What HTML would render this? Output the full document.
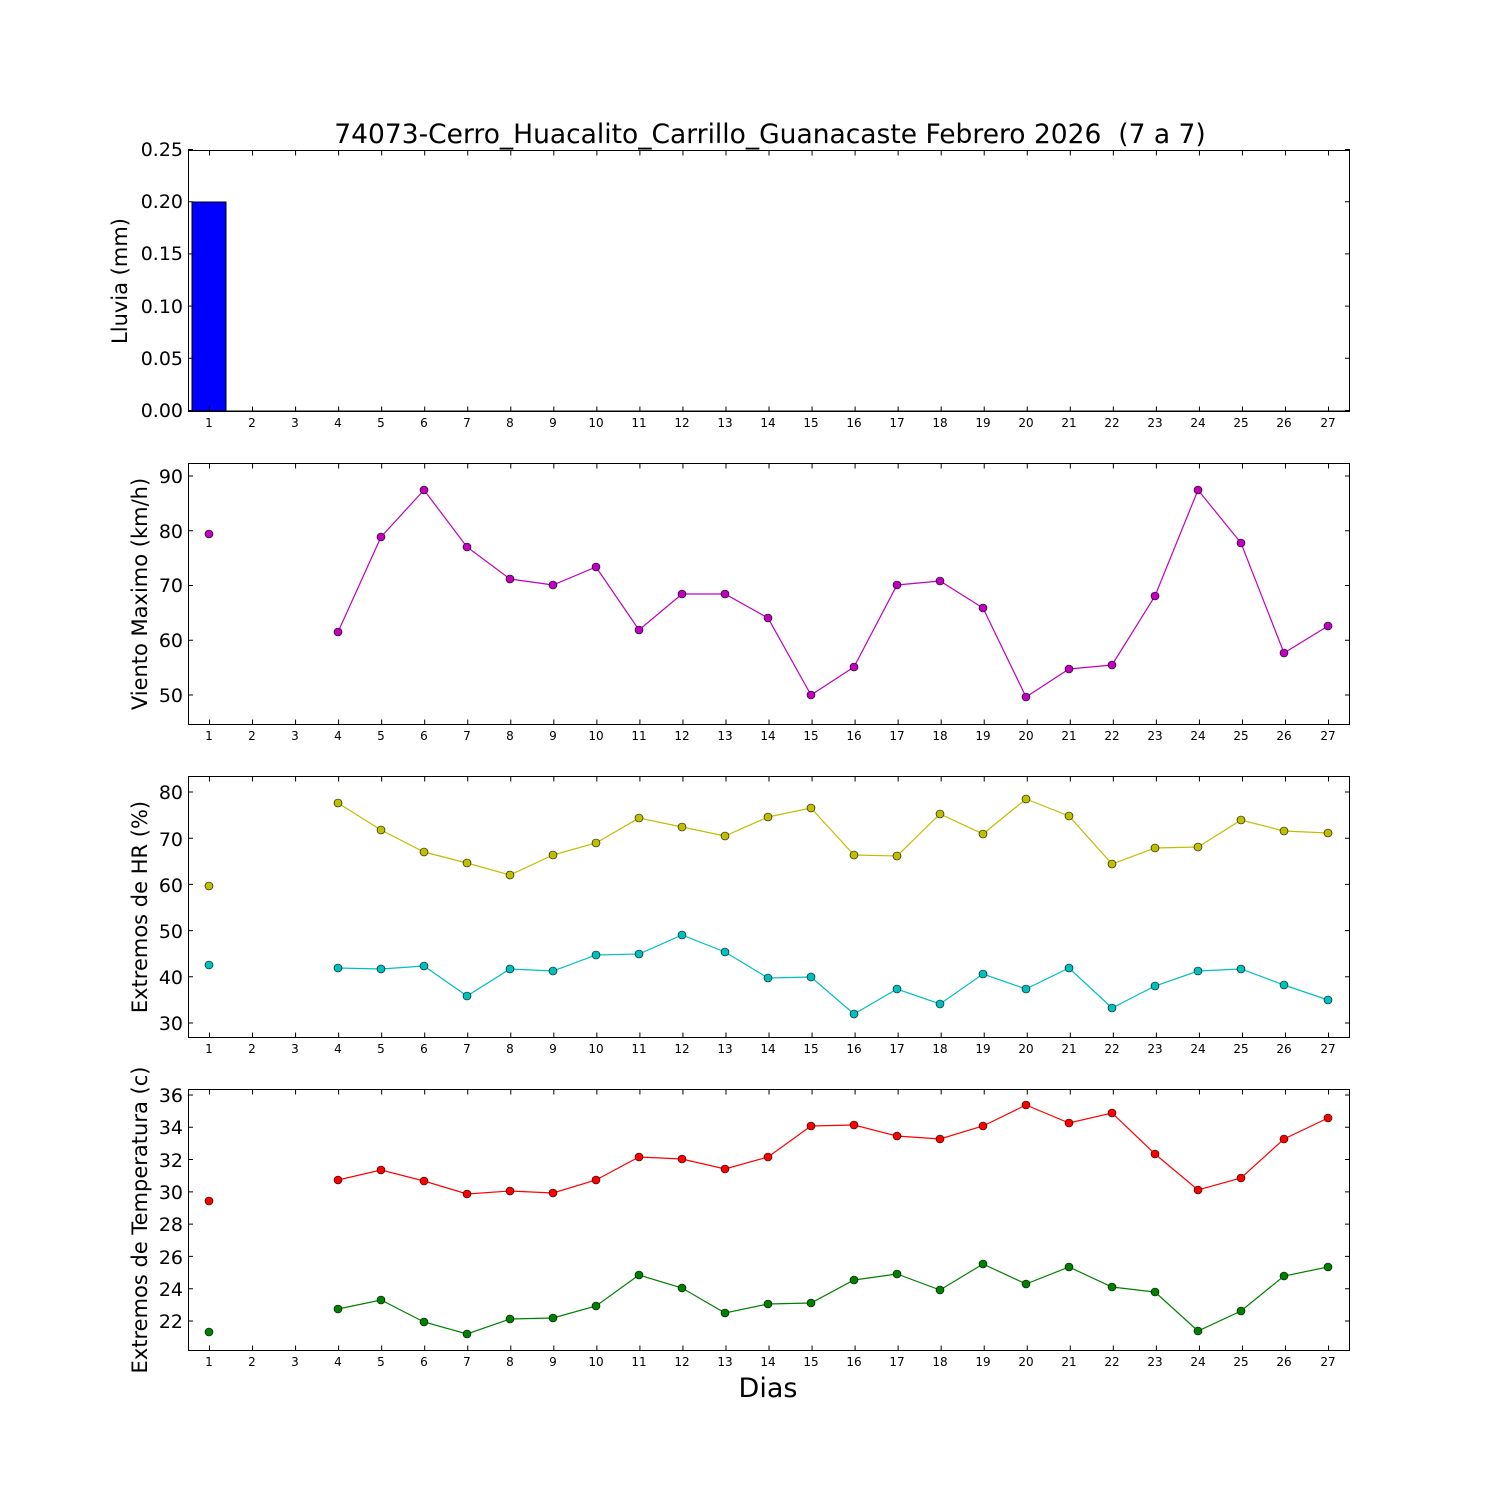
<!DOCTYPE html>
<html><head><meta charset="utf-8"><style>
body{margin:0;background:#fff}
svg text{font-family:"DejaVu Sans","Liberation Sans",sans-serif;fill:#000}
.xl{font-size:12px;text-anchor:middle}
.yl{font-size:19px;text-anchor:end}
</style></head><body>
<svg width="1500" height="1500" viewBox="0 0 1500 1500" xmlns="http://www.w3.org/2000/svg">
<rect width="1500" height="1500" fill="#fff"/>
<text x="770" y="143" font-size="26.5" text-anchor="middle">74073-Cerro_Huacalito_Carrillo_Guanacaste Febrero 2026&#160; (7 a 7)</text>

<!-- Panel 1 -->
<rect x="192" y="202" width="34" height="209" fill="#0000ff" stroke="#000" stroke-width="1"/>
<line x1="226" y1="411" x2="1350" y2="411" stroke="#000" stroke-width="1"/>
<rect x="188.5" y="150.5" width="1161" height="261" fill="none" stroke="#000" stroke-width="1"/>
<g stroke="#000" stroke-width="5" fill="none">
<line x1="209" y1="409" x2="1330" y2="409" stroke-dasharray="1 42.04"/>
<line x1="209" y1="153" x2="1330" y2="153" stroke-dasharray="1 42.04"/>
<line x1="190.5" y1="411" x2="190.5" y2="149" stroke-dasharray="1 51.2"/>
<line x1="1347.5" y1="411" x2="1347.5" y2="149" stroke-dasharray="1 51.2"/>
</g>
<g class="yl"><text x="183" y="417">0.00</text><text x="183" y="365">0.05</text><text x="183" y="313">0.10</text><text x="183" y="260">0.15</text><text x="183" y="208">0.20</text><text x="183" y="156">0.25</text></g>
<text transform="translate(127,281) rotate(-90)" font-size="21" text-anchor="middle">Lluvia (mm)</text>

<!-- Panel 2 -->
<rect x="188.5" y="463.5" width="1161" height="261" fill="none" stroke="#000" stroke-width="1"/>
<g stroke="#000" stroke-width="5" fill="none">
<line x1="209" y1="722" x2="1330" y2="722" stroke-dasharray="1 42.04"/>
<line x1="209" y1="466" x2="1330" y2="466" stroke-dasharray="1 42.04"/>
<line x1="190.5" y1="695.5" x2="190.5" y2="470" stroke-dasharray="1 53.75"/>
<line x1="1347.5" y1="695.5" x2="1347.5" y2="470" stroke-dasharray="1 53.75"/>
</g>
<g class="yl"><text x="183" y="702">50</text><text x="183" y="647">60</text><text x="183" y="592">70</text><text x="183" y="538">80</text><text x="183" y="483">90</text></g>
<text transform="translate(147,594) rotate(-90)" font-size="21" text-anchor="middle">Viento Maximo (km/h)</text>
<polyline fill="none" stroke="#bf00bf" stroke-width="1.2" points="338,632 381,537 424,490 467,547 510,579 553,585 596,567 639,630 682,594 725,594 768,618 811,695 854,667 897,585 940,581 983,608 1026,697 1069,669 1112,665 1155,596 1198,490 1241,543 1284,653 1328,626"/>
<g fill="#bf00bf" stroke="#000" stroke-width="0.6">
<circle cx="209" cy="534" r="4"/><circle cx="338" cy="632" r="4"/><circle cx="381" cy="537" r="4"/><circle cx="424" cy="490" r="4"/><circle cx="467" cy="547" r="4"/><circle cx="510" cy="579" r="4"/><circle cx="553" cy="585" r="4"/><circle cx="596" cy="567" r="4"/><circle cx="639" cy="630" r="4"/><circle cx="682" cy="594" r="4"/><circle cx="725" cy="594" r="4"/><circle cx="768" cy="618" r="4"/><circle cx="811" cy="695" r="4"/><circle cx="854" cy="667" r="4"/><circle cx="897" cy="585" r="4"/><circle cx="940" cy="581" r="4"/><circle cx="983" cy="608" r="4"/><circle cx="1026" cy="697" r="4"/><circle cx="1069" cy="669" r="4"/><circle cx="1112" cy="665" r="4"/><circle cx="1155" cy="596" r="4"/><circle cx="1198" cy="490" r="4"/><circle cx="1241" cy="543" r="4"/><circle cx="1284" cy="653" r="4"/><circle cx="1328" cy="626" r="4"/>
</g>

<!-- Panel 3 -->
<rect x="188.5" y="776.5" width="1161" height="261" fill="none" stroke="#000" stroke-width="1"/>
<g stroke="#000" stroke-width="5" fill="none">
<line x1="209" y1="1035" x2="1330" y2="1035" stroke-dasharray="1 42.04"/>
<line x1="209" y1="779" x2="1330" y2="779" stroke-dasharray="1 42.04"/>
<line x1="190.5" y1="1023.5" x2="190.5" y2="785" stroke-dasharray="1 45.2"/>
<line x1="1347.5" y1="1023.5" x2="1347.5" y2="785" stroke-dasharray="1 45.2"/>
</g>
<g class="yl"><text x="183" y="1030">30</text><text x="183" y="984">40</text><text x="183" y="938">50</text><text x="183" y="892">60</text><text x="183" y="846">70</text><text x="183" y="799">80</text></g>
<text transform="translate(147,907) rotate(-90)" font-size="21" text-anchor="middle">Extremos de HR (%)</text>
<polyline fill="none" stroke="#bfbf00" stroke-width="1.2" points="338,803 381,830 424,852 467,863 510,875 553,855 596,843 639,818 682,827 725,836 768,817 811,808 854,855 897,856 940,814 983,834 1026,799 1069,816 1112,864 1155,848 1198,847 1241,820 1284,831 1328,833"/>
<g fill="#bfbf00" stroke="#000" stroke-width="0.6">
<circle cx="209" cy="886" r="4"/><circle cx="338" cy="803" r="4"/><circle cx="381" cy="830" r="4"/><circle cx="424" cy="852" r="4"/><circle cx="467" cy="863" r="4"/><circle cx="510" cy="875" r="4"/><circle cx="553" cy="855" r="4"/><circle cx="596" cy="843" r="4"/><circle cx="639" cy="818" r="4"/><circle cx="682" cy="827" r="4"/><circle cx="725" cy="836" r="4"/><circle cx="768" cy="817" r="4"/><circle cx="811" cy="808" r="4"/><circle cx="854" cy="855" r="4"/><circle cx="897" cy="856" r="4"/><circle cx="940" cy="814" r="4"/><circle cx="983" cy="834" r="4"/><circle cx="1026" cy="799" r="4"/><circle cx="1069" cy="816" r="4"/><circle cx="1112" cy="864" r="4"/><circle cx="1155" cy="848" r="4"/><circle cx="1198" cy="847" r="4"/><circle cx="1241" cy="820" r="4"/><circle cx="1284" cy="831" r="4"/><circle cx="1328" cy="833" r="4"/>
</g>
<polyline fill="none" stroke="#00bfbf" stroke-width="1.2" points="338,968 381,969 424,966 467,996 510,969 553,971 596,955 639,954 682,935 725,952 768,978 811,977 854,1014 897,989 940,1004 983,974 1026,989 1069,968 1112,1008 1155,986 1198,971 1241,969 1284,985 1328,1000"/>
<g fill="#00bfbf" stroke="#000" stroke-width="0.6">
<circle cx="209" cy="965" r="4"/><circle cx="338" cy="968" r="4"/><circle cx="381" cy="969" r="4"/><circle cx="424" cy="966" r="4"/><circle cx="467" cy="996" r="4"/><circle cx="510" cy="969" r="4"/><circle cx="553" cy="971" r="4"/><circle cx="596" cy="955" r="4"/><circle cx="639" cy="954" r="4"/><circle cx="682" cy="935" r="4"/><circle cx="725" cy="952" r="4"/><circle cx="768" cy="978" r="4"/><circle cx="811" cy="977" r="4"/><circle cx="854" cy="1014" r="4"/><circle cx="897" cy="989" r="4"/><circle cx="940" cy="1004" r="4"/><circle cx="983" cy="974" r="4"/><circle cx="1026" cy="989" r="4"/><circle cx="1069" cy="968" r="4"/><circle cx="1112" cy="1008" r="4"/><circle cx="1155" cy="986" r="4"/><circle cx="1198" cy="971" r="4"/><circle cx="1241" cy="969" r="4"/><circle cx="1284" cy="985" r="4"/><circle cx="1328" cy="1000" r="4"/>
</g>

<!-- Panel 4 -->
<rect x="188.5" y="1089.5" width="1161" height="261" fill="none" stroke="#000" stroke-width="1"/>
<g stroke="#000" stroke-width="5" fill="none">
<line x1="209" y1="1348" x2="1330" y2="1348" stroke-dasharray="1 42.04"/>
<line x1="209" y1="1092" x2="1330" y2="1092" stroke-dasharray="1 42.04"/>
<line x1="190.5" y1="1321.5" x2="190.5" y2="1093" stroke-dasharray="1 31.29"/>
<line x1="1347.5" y1="1321.5" x2="1347.5" y2="1093" stroke-dasharray="1 31.29"/>
</g>
<g class="yl"><text x="183" y="1328">22</text><text x="183" y="1296">24</text><text x="183" y="1264">26</text><text x="183" y="1231">28</text><text x="183" y="1199">30</text><text x="183" y="1167">32</text><text x="183" y="1134">34</text><text x="183" y="1102">36</text></g>
<text transform="translate(147,1220) rotate(-90)" font-size="21" text-anchor="middle">Extremos de Temperatura (c)</text>
<polyline fill="none" stroke="#ff0000" stroke-width="1.2" points="338,1180 381,1170 424,1181 467,1194 510,1191 553,1193 596,1180 639,1157 682,1159 725,1169 768,1157 811,1126 854,1125 897,1136 940,1139 983,1126 1026,1105 1069,1123 1112,1113 1155,1154 1198,1190 1241,1178 1284,1139 1328,1118"/>
<g fill="#ff0000" stroke="#000" stroke-width="0.6">
<circle cx="209" cy="1201" r="4"/><circle cx="338" cy="1180" r="4"/><circle cx="381" cy="1170" r="4"/><circle cx="424" cy="1181" r="4"/><circle cx="467" cy="1194" r="4"/><circle cx="510" cy="1191" r="4"/><circle cx="553" cy="1193" r="4"/><circle cx="596" cy="1180" r="4"/><circle cx="639" cy="1157" r="4"/><circle cx="682" cy="1159" r="4"/><circle cx="725" cy="1169" r="4"/><circle cx="768" cy="1157" r="4"/><circle cx="811" cy="1126" r="4"/><circle cx="854" cy="1125" r="4"/><circle cx="897" cy="1136" r="4"/><circle cx="940" cy="1139" r="4"/><circle cx="983" cy="1126" r="4"/><circle cx="1026" cy="1105" r="4"/><circle cx="1069" cy="1123" r="4"/><circle cx="1112" cy="1113" r="4"/><circle cx="1155" cy="1154" r="4"/><circle cx="1198" cy="1190" r="4"/><circle cx="1241" cy="1178" r="4"/><circle cx="1284" cy="1139" r="4"/><circle cx="1328" cy="1118" r="4"/>
</g>
<polyline fill="none" stroke="#008000" stroke-width="1.2" points="338,1309 381,1300 424,1322 467,1334 510,1319 553,1318 596,1306 639,1275 682,1288 725,1313 768,1304 811,1303 854,1280 897,1274 940,1290 983,1264 1026,1284 1069,1267 1112,1287 1155,1292 1198,1331 1241,1311 1284,1276 1328,1267"/>
<g fill="#008000" stroke="#000" stroke-width="0.6">
<circle cx="209" cy="1332" r="4"/><circle cx="338" cy="1309" r="4"/><circle cx="381" cy="1300" r="4"/><circle cx="424" cy="1322" r="4"/><circle cx="467" cy="1334" r="4"/><circle cx="510" cy="1319" r="4"/><circle cx="553" cy="1318" r="4"/><circle cx="596" cy="1306" r="4"/><circle cx="639" cy="1275" r="4"/><circle cx="682" cy="1288" r="4"/><circle cx="725" cy="1313" r="4"/><circle cx="768" cy="1304" r="4"/><circle cx="811" cy="1303" r="4"/><circle cx="854" cy="1280" r="4"/><circle cx="897" cy="1274" r="4"/><circle cx="940" cy="1290" r="4"/><circle cx="983" cy="1264" r="4"/><circle cx="1026" cy="1284" r="4"/><circle cx="1069" cy="1267" r="4"/><circle cx="1112" cy="1287" r="4"/><circle cx="1155" cy="1292" r="4"/><circle cx="1198" cy="1331" r="4"/><circle cx="1241" cy="1311" r="4"/><circle cx="1284" cy="1276" r="4"/><circle cx="1328" cy="1267" r="4"/>
</g>
<text x="768" y="1397" font-size="27" text-anchor="middle">Dias</text>

<!-- x tick labels -->
<g class="xl">
<text x="209" y="427">1</text><text x="252" y="427">2</text><text x="295" y="427">3</text><text x="338" y="427">4</text><text x="381" y="427">5</text><text x="424" y="427">6</text><text x="467" y="427">7</text><text x="510" y="427">8</text><text x="553" y="427">9</text><text x="596" y="427">10</text><text x="639" y="427">11</text><text x="682" y="427">12</text><text x="725" y="427">13</text><text x="768" y="427">14</text><text x="811" y="427">15</text><text x="854" y="427">16</text><text x="897" y="427">17</text><text x="940" y="427">18</text><text x="983" y="427">19</text><text x="1026" y="427">20</text><text x="1069" y="427">21</text><text x="1112" y="427">22</text><text x="1155" y="427">23</text><text x="1198" y="427">24</text><text x="1241" y="427">25</text><text x="1284" y="427">26</text><text x="1328" y="427">27</text>
</g>
<g class="xl">
<text x="209" y="740">1</text><text x="252" y="740">2</text><text x="295" y="740">3</text><text x="338" y="740">4</text><text x="381" y="740">5</text><text x="424" y="740">6</text><text x="467" y="740">7</text><text x="510" y="740">8</text><text x="553" y="740">9</text><text x="596" y="740">10</text><text x="639" y="740">11</text><text x="682" y="740">12</text><text x="725" y="740">13</text><text x="768" y="740">14</text><text x="811" y="740">15</text><text x="854" y="740">16</text><text x="897" y="740">17</text><text x="940" y="740">18</text><text x="983" y="740">19</text><text x="1026" y="740">20</text><text x="1069" y="740">21</text><text x="1112" y="740">22</text><text x="1155" y="740">23</text><text x="1198" y="740">24</text><text x="1241" y="740">25</text><text x="1284" y="740">26</text><text x="1328" y="740">27</text>
</g>
<g class="xl">
<text x="209" y="1053">1</text><text x="252" y="1053">2</text><text x="295" y="1053">3</text><text x="338" y="1053">4</text><text x="381" y="1053">5</text><text x="424" y="1053">6</text><text x="467" y="1053">7</text><text x="510" y="1053">8</text><text x="553" y="1053">9</text><text x="596" y="1053">10</text><text x="639" y="1053">11</text><text x="682" y="1053">12</text><text x="725" y="1053">13</text><text x="768" y="1053">14</text><text x="811" y="1053">15</text><text x="854" y="1053">16</text><text x="897" y="1053">17</text><text x="940" y="1053">18</text><text x="983" y="1053">19</text><text x="1026" y="1053">20</text><text x="1069" y="1053">21</text><text x="1112" y="1053">22</text><text x="1155" y="1053">23</text><text x="1198" y="1053">24</text><text x="1241" y="1053">25</text><text x="1284" y="1053">26</text><text x="1328" y="1053">27</text>
</g>
<g class="xl">
<text x="209" y="1366">1</text><text x="252" y="1366">2</text><text x="295" y="1366">3</text><text x="338" y="1366">4</text><text x="381" y="1366">5</text><text x="424" y="1366">6</text><text x="467" y="1366">7</text><text x="510" y="1366">8</text><text x="553" y="1366">9</text><text x="596" y="1366">10</text><text x="639" y="1366">11</text><text x="682" y="1366">12</text><text x="725" y="1366">13</text><text x="768" y="1366">14</text><text x="811" y="1366">15</text><text x="854" y="1366">16</text><text x="897" y="1366">17</text><text x="940" y="1366">18</text><text x="983" y="1366">19</text><text x="1026" y="1366">20</text><text x="1069" y="1366">21</text><text x="1112" y="1366">22</text><text x="1155" y="1366">23</text><text x="1198" y="1366">24</text><text x="1241" y="1366">25</text><text x="1284" y="1366">26</text><text x="1328" y="1366">27</text>
</g>
</svg>
</body></html>
